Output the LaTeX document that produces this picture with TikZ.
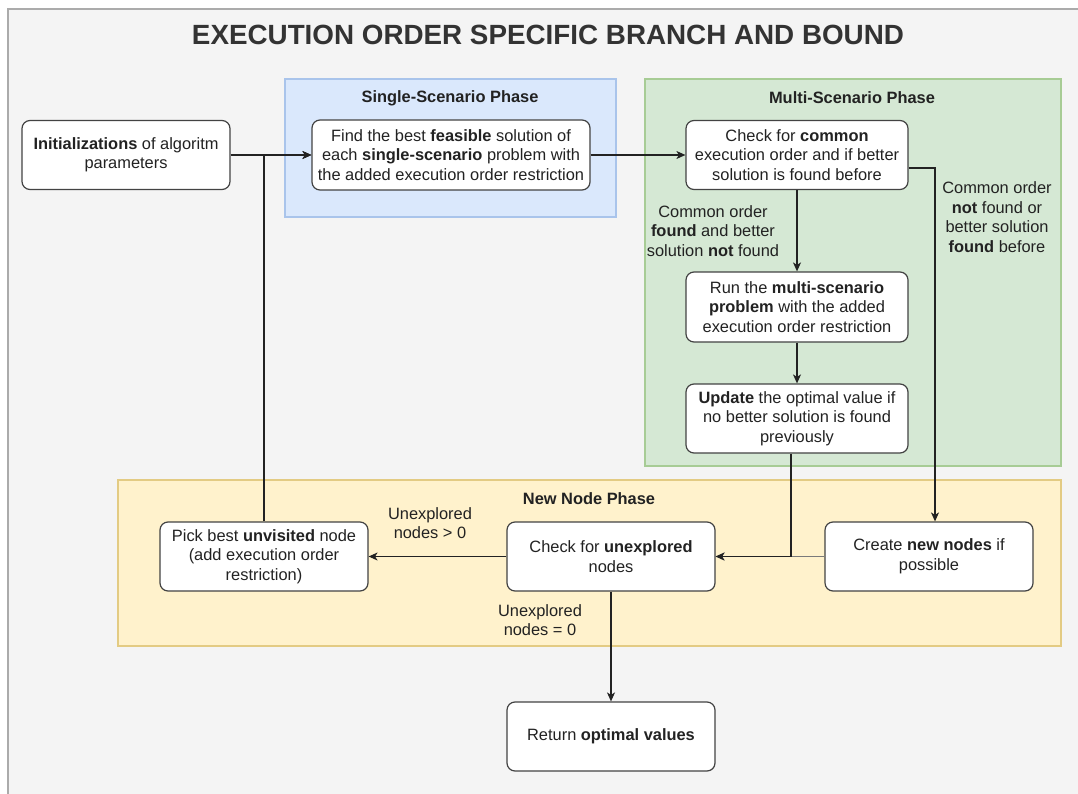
\documentclass[tikz,border=0pt]{standalone}
\usepackage{fontspec}
\setmainfont{Liberation Sans}
\usetikzlibrary{arrows.meta,calc}
\definecolor{bgray}{HTML}{F4F4F4}
\definecolor{frameg}{HTML}{ABABAB}
\definecolor{bluef}{HTML}{DAE8FC}
\definecolor{blued}{HTML}{A9C4EB}
\definecolor{greenf}{HTML}{D5E8D4}
\definecolor{greend}{HTML}{A7CC95}
\definecolor{yelf}{HTML}{FFF2CC}
\definecolor{yeld}{HTML}{E3CB83}
\definecolor{ink}{HTML}{222222}
\definecolor{titlec}{HTML}{333333}
\begin{document}
\begin{tikzpicture}[x=1pt,y=-1pt,
  every node/.style={font=\fontsize{16.4}{19.5}\selectfont, text=ink},
  box/.style={draw=ink!85, fill=white, rounded corners=8pt, line width=1.2pt, align=center, inner sep=1pt},
  phase/.style={line width=1.3pt},
  lbl/.style={align=center, inner sep=0pt},
  ptitle/.style={font=\fontsize{16.4}{19}\selectfont\bfseries},
  arr/.style={draw=ink, line width=1.2pt, -{Stealth[length=9pt,width=8pt,inset=2.5pt]}},
  arrl/.style={draw=ink!60, line width=1pt, -{Stealth[length=9pt,width=8pt,inset=2.5pt]}}
]
\useasboundingbox (0,0) rectangle (1078,794);
\fill[white] (0,0) rectangle (1078,794);
\fill[bgray] (8,9) rectangle (1078,794);
\draw[frameg, line width=1.5pt] (8,794) -- (8,9) -- (1078,9);

\node[font=\fontsize{27.8}{30}\selectfont\bfseries, text=titlec] (title) at (548,35) {EXECUTION ORDER SPECIFIC BRANCH AND BOUND};

% phases
\draw[phase, fill=bluef, draw=blued] (285,79) rectangle (616,217);
\draw[phase, fill=greenf, draw=greend] (645,79) rectangle (1061,466);
\draw[phase, fill=yelf, draw=yeld] (118,480) rectangle (1061,646);
\node[ptitle] (p1) at (450,98) {Single-Scenario Phase};
\node[ptitle] (p2) at (852,98) {Multi-Scenario Phase};
\node[ptitle] (p3) at (589,499) {New Node Phase};

% nodes
\node[box, minimum width=208pt, minimum height=69pt] (init) at (126,155) {\textbf{Initializations} of algoritm\\parameters};
\node[box, minimum width=278pt, minimum height=70pt] (find) at (451,155) {Find the best \textbf{feasible} solution of\\each \textbf{single-scenario} problem with\\the added execution order restriction};
\node[box, minimum width=222pt, minimum height=69pt] (chk) at (797,155) {Check for \textbf{common}\\execution order and if better\\solution is found before};
\node[box, minimum width=222pt, minimum height=70pt] (run) at (797,307) {Run the \textbf{multi-scenario}\\\textbf{problem} with the added\\execution order restriction};
\node[box, minimum width=222pt, minimum height=69pt] (upd) at (797,418.5) {\textbf{Update} the optimal value if\\no better solution is found\\previously};
\node[box, minimum width=208pt, minimum height=69pt] (pick) at (264,556.5) {Pick best \textbf{unvisited} node\\(add execution order\\restriction)};
\node[box, minimum width=208pt, minimum height=69pt] (unex) at (611,556.5) {Check for \textbf{unexplored}\\nodes};
\node[box, minimum width=208pt, minimum height=69pt] (create) at (929,556.5) {Create \textbf{new nodes} if\\possible};
\node[box, minimum width=208pt, minimum height=69pt] (ret) at (611,736.5) {Return \textbf{optimal values}};

% labels
\node[lbl] (l1) at (713,231) {Common order\\\textbf{found} and better\\solution \textbf{not} found};
\node[lbl] (l2) at (997,217) {Common order\\\textbf{not} found or\\better solution\\\textbf{found} before};
\node[lbl] (l3) at (430,523) {Unexplored\\nodes {>} 0};
\node[lbl] (l4) at (540,620) {Unexplored\\nodes = 0};

% connectors
\draw[arr] (init.east) -- (find.west);
\draw[arr] (pick.north) |- (find.west);
\draw[arr] (find.east) -- (chk.west);
\draw[arr] (chk.south) -- (run.north);
\draw[arr] (run.south) -- (upd.north);
\draw[arr] ([yshift=-13pt]chk.east) -| ([xshift=6pt]create.north);
\draw[arrl] (create.west) -- (unex.east);
\draw[arr] ([xshift=-6pt]upd.south) |- (unex.east);
\draw[arr] (unex.west) -- (pick.east);
\draw[arr] (unex.south) -- (ret.north);
\end{tikzpicture}
\end{document}
